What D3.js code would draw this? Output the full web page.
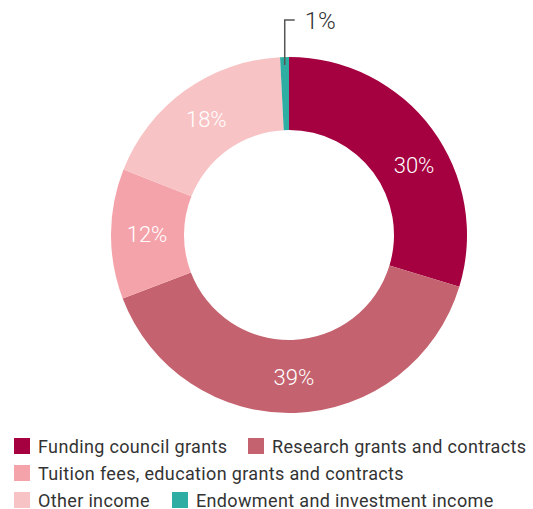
<!DOCTYPE html>
<html>
<head>
<meta charset="utf-8">
<script src="https://cdn.jsdelivr.net/npm/d3@7"></script>
<style>
  body { margin: 0; background: #fff; }
  svg { display: block; font-family: Roboto, "Noto Sans", sans-serif; }
</style>
</head>
<body>
<svg width="533" height="509"></svg>
<script>
// income sources and their share (%)
const categories = ["Funding council grants", "Research grants and contracts",
    "Tuition fees, education grants and contracts", "Other income",
    "Endowment and investment income"];
const shares = [29.7, 39.5, 11.8, 18.2, 0.8];
const shareLabels = ["30%", "39%", "12%", "18%", "1%"];
const colors = ["#a5003f", "#c4636f", "#f5a3aa", "#f8c3c5", "#2eaea2"];

// legend rows: which categories on each row
const legendRows = [[0, 1], [2], [3, 4]];

const svg = d3.select("svg");
const cx = 289, cy = 235;
const outerR = 178, innerR = 105;

const data = categories.map((c, i) => ({name: c, value: shares[i], label: shareLabels[i], color: colors[i]}));

const pie = d3.pie().sort(null).value(d => d.value);
const arcs = pie(data);

const arc = d3.arc().innerRadius(innerR).outerRadius(outerR);
const labelArc = d3.arc().innerRadius(142).outerRadius(142);

const g = svg.append("g").attr("transform", `translate(${cx},${cy})`);

g.selectAll("path")
    .data(arcs)
    .enter()
    .append("path")
    .attr("d", arc)
    .attr("fill", d => d.data.color);

// white labels inside the ring (not for the tiny slice)
// first label sits a bit further round than the centroid
g.selectAll(".lbl")
    .data(arcs.filter(d => d.data.value > 5))
    .enter()
    .append("text")
    .attr("class", "lbl")
    .attr("transform", d => {
        if (d.index == 0) {
            const a = d.startAngle + (d.endAngle - d.startAngle) * 0.57;
            return `translate(${Math.sin(a) * 143},${-Math.cos(a) * 143})`;
        }
        return `translate(${labelArc.centroid(d)})`;
    })
    .attr("text-anchor", "middle")
    .attr("dy", "0.35em")
    .attr("fill", "#fff")
    .style("font-size", "22px")
    .style("font-weight", 300)
    .text(d => d.data.label);

// leader line for the small slice
const small = arcs[4];
const midA = (small.startAngle + small.endAngle) / 2;
const px = Math.sin(midA) * (outerR - 8);
const py = -Math.cos(midA) * (outerR - 8);
const topY = -215;
g.append("path")
    .attr("d", `M${px},${py}V${topY}H${px + 10}`)
    .attr("fill", "none")
    .attr("stroke", "#555")
    .attr("stroke-width", 1.5);
g.append("text")
    .attr("x", px + 20)
    .attr("y", topY + 1)
    .attr("dy", "0.35em")
    .attr("fill", "#333")
    .style("font-size", "24px")
    .style("font-weight", 300)
    .text(small.data.label);

// legend
const legendX = [[14, 248], [14], [14, 172]];
legendRows.forEach((row, r) => {
    row.forEach((idx, k) => {
        const y = 446 + r * 27;
        const x = legendX[r][k];
        svg.append("rect")
            .attr("x", x).attr("y", y - 8)
            .attr("width", 16).attr("height", 16)
            .attr("fill", colors[idx]);
        svg.append("text")
            .attr("x", x + 24).attr("y", y + 1)
            .attr("dy", "0.35em")
            .attr("fill", "#333")
            .style("font-size", "18px")
            .style("letter-spacing", "0.35px")
            .text(categories[idx]);
    });
});
</script>
</body>
</html>
